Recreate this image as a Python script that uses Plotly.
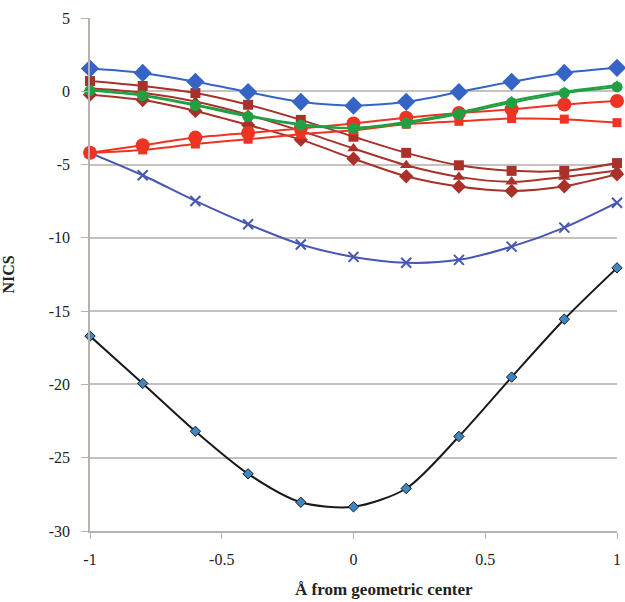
import plotly.graph_objects as go

x_vals = [-1, -0.8, -0.6, -0.4, -0.2, 0, 0.2, 0.4, 0.6, 0.8, 1]

blue_diamond = [1.55, 1.25, 0.65, -0.05, -0.72, -0.98, -0.72, -0.05, 0.65, 1.25, 1.6]
darkred_square = [0.7, 0.36, -0.12, -0.92, -1.95, -3.1, -4.2, -5.05, -5.43, -5.43, -4.9]
darkred_triangle = [0.2, -0.1, -0.7, -1.6, -2.7, -3.9, -5.05, -5.84, -6.18, -5.84, -5.4]
darkred_diamond = [-0.23, -0.6, -1.34, -2.3, -3.3, -4.6, -5.8, -6.5, -6.8, -6.48, -5.66]
green_triangle = [0.1, -0.25, -0.9, -1.65, -2.25, -2.5, -2.1, -1.45, -0.65, -0.02, 0.42]
green_circle = [0.05, -0.3, -0.97, -1.72, -2.3, -2.52, -2.18, -1.55, -0.78, -0.12, 0.3]
red_circle = [-4.2, -3.68, -3.16, -2.84, -2.54, -2.2, -1.8, -1.48, -1.23, -0.9, -0.66]
red_square = [-4.2, -4.0, -3.6, -3.27, -2.93, -2.66, -2.25, -2.05, -1.86, -1.9, -2.14]
blue_x = [-4.2, -5.73, -7.48, -9.07, -10.45, -11.3, -11.7, -11.5, -10.6, -9.3, -7.6]
black_diamond = [-16.7, -19.93, -23.2, -26.1, -28.04, -28.35, -27.1, -23.55, -19.5, -15.55, -12.05]

y_ticks = [5, 0, -5, -10, -15, -20, -25, -30]
x_ticks = [-1, -0.5, 0, 0.5, 1]

fig = go.Figure()

def add(y, color, symbol, size, lw=2, mcolor=None, mline=None):
    fig.add_trace(go.Scatter(
        x=x_vals, y=y, mode="lines+markers",
        line=dict(color=color, width=lw, shape="spline", smoothing=0.8),
        marker=dict(symbol=symbol, size=size, color=mcolor or color,
                    line=mline or dict(width=0)),
        showlegend=False, cliponaxis=False,
    ))

DR = "#A8322A"
RED = "#EE3323"
add(black_diamond, "#1a1a1a", "diamond", 8, lw=2, mcolor="#3E86C4",
    mline=dict(color="#1a1a1a", width=1))
add(blue_x, "#4657B4", "x-thin", 10, lw=2, mline=dict(color="#4657B4", width=2))
add(darkred_diamond, DR, "diamond", 11)
add(darkred_triangle, DR, "triangle-up", 11)
add(darkred_square, DR, "square", 10)
add(red_square, RED, "square", 9)
add(red_circle, RED, "circle", 14)
add(green_triangle, "#21A043", "triangle-up", 10)
add(green_circle, "#21A043", "circle", 11)
add(blue_diamond, "#3564C6", "diamond", 14)

FONT = "Liberation Serif"
fig.update_layout(
    width=625, height=602,
    margin=dict(l=90, r=8, t=18, b=71),
    paper_bgcolor="white", plot_bgcolor="white",
    font=dict(family=FONT, size=15, color="#222"),
)
fig.update_xaxes(
    range=[-1, 1], tickvals=x_ticks, ticktext=[str(v) for v in x_ticks],
    showgrid=False, zeroline=False, automargin=False,
    showline=True, linecolor="#b8b0ac", linewidth=1.5,
    ticks="outside", ticklen=6, tickcolor="#b8b0ac",
    ticklabelstandoff=7, ticklabeloverflow="allow",
    tickfont=dict(family=FONT, size=16, color="#222"),
)
fig.update_yaxes(
    range=[-30, 5], tickvals=y_ticks, ticktext=[str(v) for v in y_ticks],
    showgrid=True, gridcolor="#c8c0bc", gridwidth=1.5, zeroline=False,
    automargin=False,
    showline=True, linecolor="#b8b0ac", linewidth=1.5,
    ticks="outside", ticklen=7, tickcolor="#b8b0ac",
    ticklabelstandoff=8, ticklabeloverflow="allow",
    tickfont=dict(family=FONT, size=16, color="#222"),
    title=dict(text="<b>NICS</b>", standoff=30,
               font=dict(family=FONT, size=16, color="#222")),
)
fig.add_annotation(
    text="<b>Å from geometric center</b>", xref="paper", yref="paper",
    x=0.558, y=-0.115, xanchor="center", yanchor="middle", showarrow=False,
    font=dict(family=FONT, size=17, color="#222"),
)

fig.write_html("out.html",
               config={"displayModeBar": False},
               post_script="document.body.style.margin='0';document.body.style.overflow='hidden';")
